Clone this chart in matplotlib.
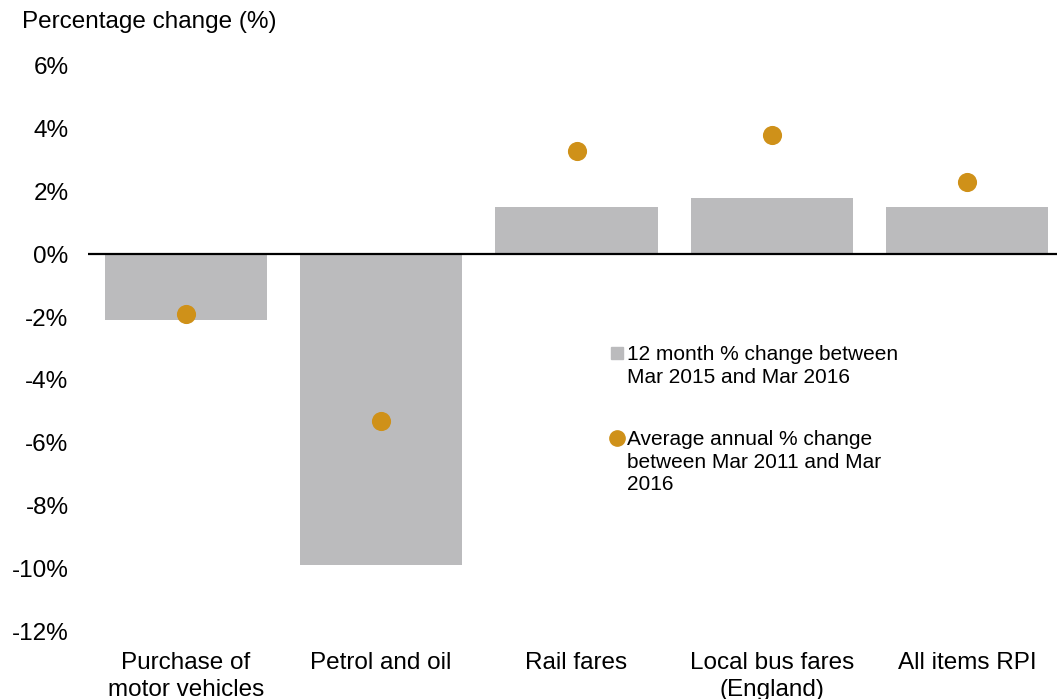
import numpy as np
import matplotlib
matplotlib.use("Agg")
import matplotlib.pyplot as plt
from matplotlib.lines import Line2D

plt.rcParams["font.family"] = ["Liberation Sans", "DejaVu Sans"]

categories = ["Purchase of\nmotor vehicles", "Petrol and oil", "Rail fares",
              "Local bus fares\n(England)", "All items RPI"]
change_12m = [-2.1, -9.9, 1.5, 1.8, 1.5]
avg_annual = [-1.9, -5.3, 3.3, 3.8, 2.3]
yticks = [6, 4, 2, 0, -2, -4, -6, -8, -10, -12]
legend_labels = ["12 month % change between\nMar 2015 and Mar 2016",
                 "Average annual % change\nbetween Mar 2011 and Mar\n2016"]

bar_color = "#bbbbbd"
dot_color = "#cf9119"

W, H = 1057, 699
fig = plt.figure(figsize=(W / 100, H / 100), dpi=100)
ax = fig.add_axes([88 / W, 1 - 631 / H, 977 / W, (631 - 66) / H])

x = np.arange(len(categories))
ax.bar(x, change_12m, width=0.83, color=bar_color, zorder=2)
ax.scatter(x, avg_annual, s=190, color=dot_color, zorder=3, linewidths=0)
ax.axhline(0, color="black", lw=1.6, zorder=4)

ax.set_xlim(-0.5, len(categories) - 0.5)
ax.set_ylim(-12, 6)
ax.set_yticks(yticks)
ax.set_yticklabels([f"{v}%" for v in yticks])
ax.set_xticks(x)
ax.set_xticklabels(categories, linespacing=1.3)
ax.tick_params(axis="both", length=0, labelsize=17.5)
ax.tick_params(axis="y", pad=14)
ax.tick_params(axis="x", pad=15)
for s in ax.spines.values():
    s.set_visible(False)

fig.text(22 / W, 1 - 22 / H, "Percentage change (%)", fontsize=17.5,
         ha="left", va="center")

# legend drawn by hand so the keys sit on the first line of each label
keys = [dict(marker="s", color=bar_color, ms=8),
        dict(marker="o", color=dot_color, ms=11)]
key_y = [353, 438]
for kw, yy, lab in zip(keys, key_y, legend_labels):
    fig.add_artist(Line2D([617 / W], [1 - yy / H], ls="none",
                          transform=fig.transFigure, **kw))
    fig.text(627 / W, 1 - (yy - 8) / H, lab, fontsize=15, ha="left",
             va="top", linespacing=1.25)

fig.savefig("out.png", dpi=100)
